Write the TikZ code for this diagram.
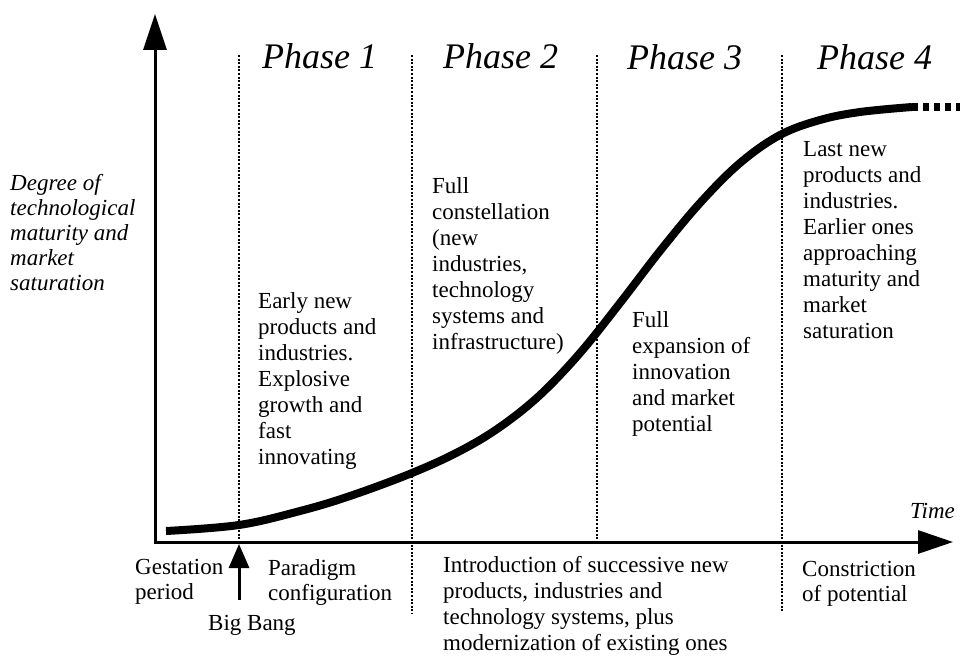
\documentclass[tikz,border=0pt]{standalone}
\usepackage{fontspec}
\setmainfont{Liberation Serif}
\usetikzlibrary{arrows.meta}
\newcommand{\phasetitle}[1]{\fontsize{36}{40}\selectfont\itshape Phase #1}
\tikzset{
  axis/.style={line width=3pt, -{Triangle[length=36pt,width=23pt]}},
  sep/.style={line width=2pt, dash pattern=on 2pt off 1.6pt},
  curve/.style={line width=8pt},
  note/.style={anchor=north west, inner sep=0pt, align=left, font=\fontsize{23}{26}\selectfont},
}

\begin{document}
\begin{tikzpicture}[x=1pt,y=-1pt]
    \useasboundingbox (0,0) rectangle (965,655);
    % axes
    \coordinate (o) at (155,542);
    \coordinate (ytip) at (155,14);
    \coordinate (xtip) at (953,542);
    \draw[axis] (155,543.5) -- (ytip);
    \draw[axis,-{Triangle[length=35pt,width=23pt]}] (o) -- (xtip);
    % phase separators
    \foreach \x/\y in {239/542, 412/614, 597/542, 782/611}{
    \draw[sep] (\x,55) -- (\x,\y);
    }
    \node[anchor=base west,inner sep=0pt] (ph1) at (262,69) {\phasetitle{1}};
    \node[anchor=base west,inner sep=0pt] (ph2) at (443,69) {\phasetitle{2}};
    \node[anchor=base west,inner sep=0pt] (ph3) at (627,70) {\phasetitle{3}};
    \node[anchor=base west,inner sep=0pt] (ph4) at (817,70) {\phasetitle{4}};
    % the surge curve
    \draw[curve] plot[smooth,tension=0.6] coordinates {(166,531) (239,525) (300,511) (350,496) (412,473) (460,451) (500,427) (540,395) (580,353) (620,303) (660,251) (700,203) (740,163) (780,135) (820,120) (860,112) (912,107)} coordinate (sat);
    \coordinate (satend) at (960,107);
    \draw[curve,dash pattern=on 6pt off 5pt] (sat) -- (satend);
    % texts in the phases
    \node[note,font=\fontsize{23}{25}\selectfont\itshape] (degree) at (10,174) {Degree of\\technological\\maturity and\\market\\saturation};
    \node[note] (early) at (258,292) {Early new\\products and\\industries.\\Explosive\\growth and\\fast\\innovating};
    \node[note] (full) at (432,177) {Full\\constellation\\(new\\industries,\\technology\\systems and\\infrastructure)};
    \node[note] (expansion) at (632,311) {Full\\expansion of\\innovation\\and market\\potential};
    \node[note] (last) at (803,141) {Last new\\products and\\industries.\\Earlier ones\\approaching\\maturity and\\market\\saturation};
    \node[anchor=base west,inner sep=0pt,font=\fontsize{23}{26}\selectfont\itshape] (time) at (910,518) {Time};
    % texts under the time axis
    \node[note,font=\fontsize{23}{25}\selectfont] (gestation) at (135,559) {Gestation\\period};
    \node[note,font=\fontsize{23}{25}\selectfont] (paradigm) at (268,559) {Paradigm\\configuration};
    \node[note] (bigbang) at (208,615) {Big Bang};
    \node[note] (intro) at (443,556) {Introduction of successive new\\products, industries and\\technology systems, plus\\modernization of existing ones};
    \node[note,font=\fontsize{23}{25}\selectfont] (constriction) at (802,561) {Constriction\\of potential};
    \coordinate (bang) at (239,544);
    \draw[line width=3pt,-{Triangle[length=24pt,width=20pt]}] (239,600) -- (bang);
  \end{tikzpicture}
\end{document}
